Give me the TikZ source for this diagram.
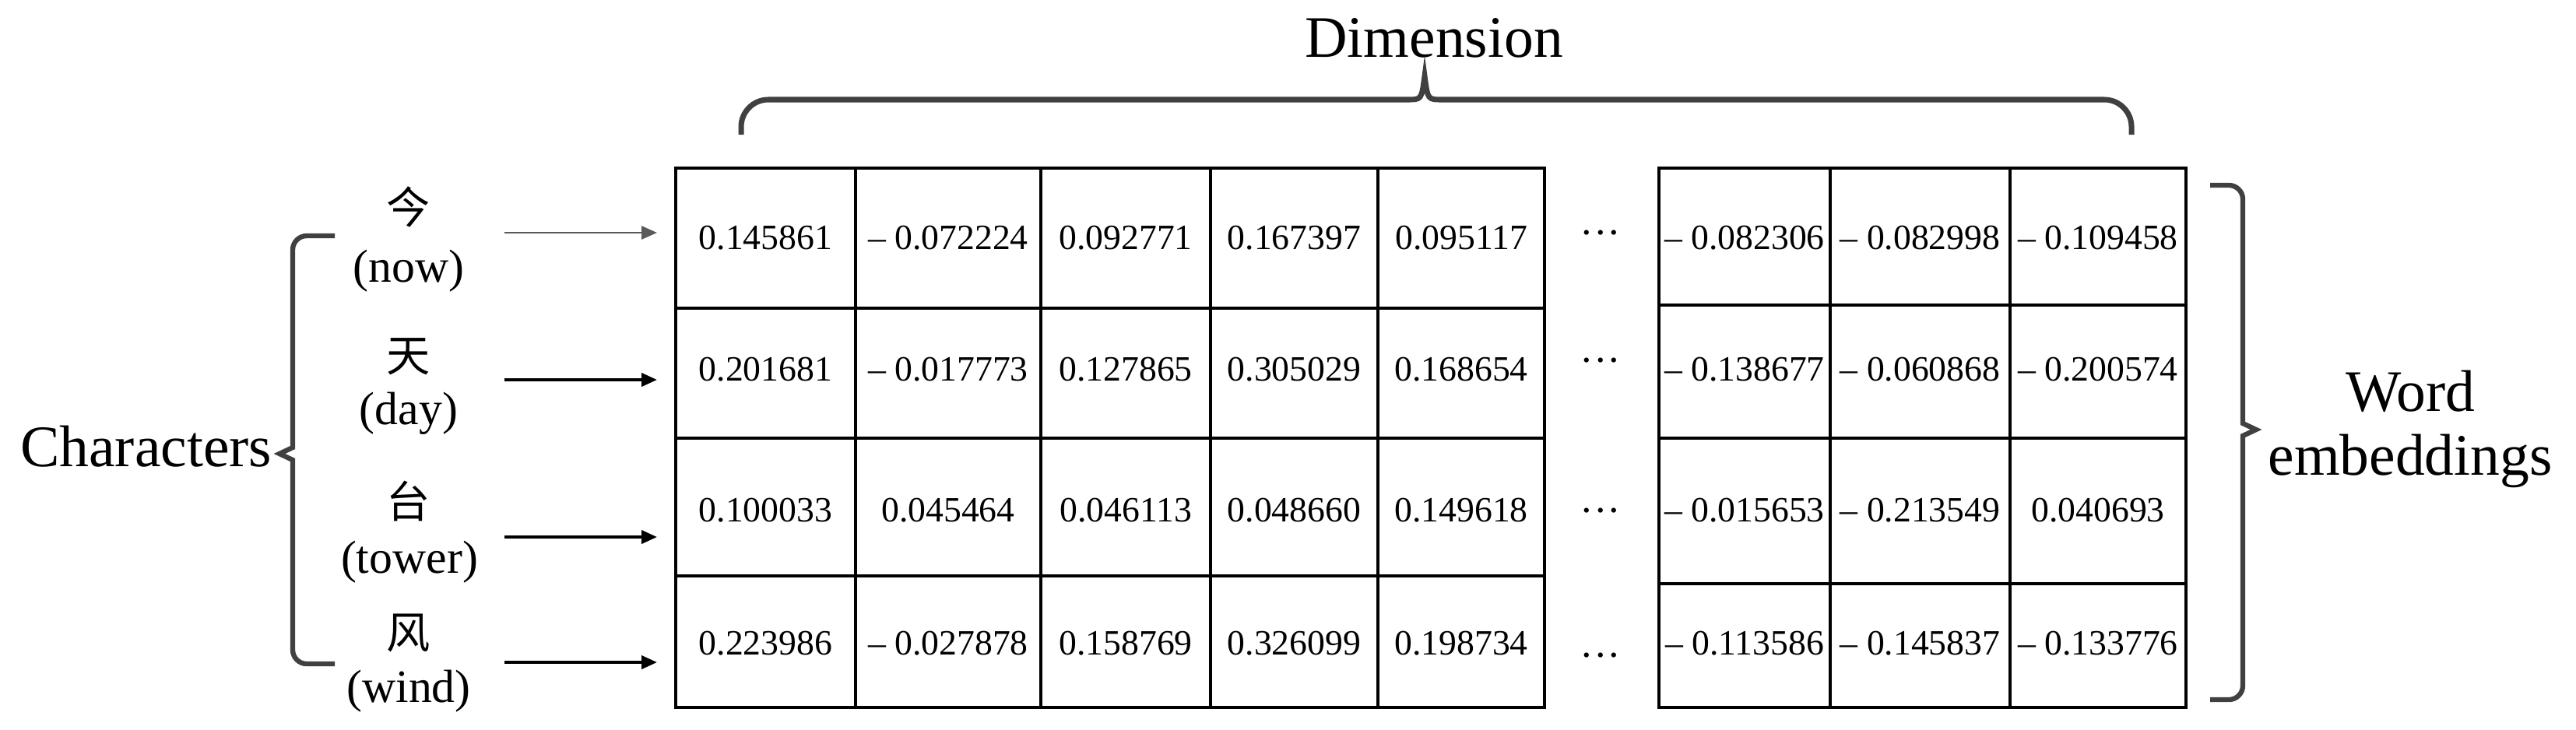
\documentclass[tikz,border=0pt]{standalone}
\usepackage{fontspec}
\setmainfont{Liberation Serif}
\newfontfamily\cjk{Noto Sans CJK SC}
\usepackage{tikz}
\usetikzlibrary{arrows.meta, positioning}
\definecolor{bracegray}{RGB}{64, 64, 64}
\definecolor{arrowgray}{RGB}{90, 90, 90}
\tikzstyle{val} = [inner sep=0pt, font=\fontsize{13}{15}\selectfont]
\tikzstyle{ell} = [inner sep=0pt, font=\fontsize{15}{17}\selectfont]
\tikzstyle{cellline} = [line width=1.1pt]
\tikzstyle{bracket} = [line width=1.8pt, draw=bracegray]
\tikzstyle{arrow} = [line width=1.1pt, -{Triangle[length=0.2cm, width=0.17cm]}]
\tikzstyle{hanzi} = [inner sep=0pt, font=\cjk\fontsize{16}{18}\selectfont]
\tikzstyle{gloss} = [inner sep=0pt, font=\fontsize{17}{19}\selectfont]
\tikzstyle{heading} = [inner sep=0pt, font=\fontsize{21.5}{23.3}\selectfont]

\begin{document}
\begin{tikzpicture}
    \useasboundingbox (0,0) rectangle (33.09,9.37);

    % Characters and glosses
    \node[hanzi] (jin) at (5.25, 6.71) {今};
    \node[gloss] (now) at (5.25, 5.89) {(now)};
    \node[hanzi] (tian) at (5.25, 4.79) {天};
    \node[gloss] (day) at (5.25, 4.06) {(day)};
    \node[hanzi] (tai) at (5.25, 2.93) {台};
    \node[gloss] (tower) at (5.26, 2.15) {(tower)};
    \node[hanzi] (feng) at (5.25, 1.24) {风};
    \node[gloss] (wind) at (5.25, 0.49) {(wind)};

    \node[heading, anchor=base east] (chars) at (3.50, 3.38) {Characters};
    \node[heading, anchor=base] (dim) at (18.42, 8.64) {Dimension};
    \node[heading, align=center] (emb) at (30.96, 3.86) {Word\\embeddings};

    % Grid of the two tables
    \draw[cellline] (8.68,0.28) rectangle (19.84,7.21);
    \foreach \x in {10.99, 13.37, 15.55, 17.70}
        \draw[cellline] (\x,0.28) -- (\x,7.21);
    \foreach \y in {5.41, 3.74, 1.97}
        \draw[cellline] (8.68,\y) -- (19.84,\y);
    \draw[cellline] (21.31,0.28) rectangle (28.08,7.21);
    \foreach \x in {23.51, 25.82}
        \draw[cellline] (\x,0.28) -- (\x,7.21);
    \foreach \y in {5.45, 3.74, 1.87}
        \draw[cellline] (21.31,\y) -- (28.08,\y);

    % Embedding values
    \foreach \r/\y/\vals in {
        1/6.31/{0.145861, – 0.072224, 0.092771, 0.167397, 0.095117, – 0.082306, – 0.082998, – 0.109458},
        2/4.62/{0.201681, – 0.017773, 0.127865, 0.305029, 0.168654, – 0.138677, – 0.060868, – 0.200574},
        3/2.81/{0.100033, 0.045464, 0.046113, 0.048660, 0.149618, – 0.015653, – 0.213549, 0.040693},
        4/1.10/{0.223986, – 0.027878, 0.158769, 0.326099, 0.198734, – 0.113586, – 0.145837, – 0.133776}}
    {
        \foreach \v [count=\c] in \vals {
            \pgfmathsetmacro\cx{{9.835,12.18,14.46,16.625,18.77,22.41,24.665,26.95}[\c-1]}
            \node[val] (c\r\c) at (\cx, \y) {\v};
        }
    }

    \node[ell] (d1) at (20.56, 6.31) {···};
    \node[ell] (d2) at (20.56, 4.67) {···};
    \node[ell] (d3) at (20.56, 2.74) {···};
    \node[ell] (d4) at (20.56, 0.88) {···};

    % Arrows into the rows
    \coordinate (a1) at (6.48, 6.38);  \coordinate (b1) at (8.44, 6.38);
    \coordinate (a2) at (6.48, 4.49);  \coordinate (b2) at (8.44, 4.49);
    \coordinate (a3) at (6.48, 2.47);  \coordinate (b3) at (8.44, 2.47);
    \coordinate (a4) at (6.48, 0.86);  \coordinate (b4) at (8.44, 0.86);
    \draw[arrow, line width=0.8pt, draw=arrowgray, fill=arrowgray] (a1) -- (b1);
    \draw[arrow] (a2) -- (b2);
    \draw[arrow] (a3) -- (b3);
    \draw[arrow] (a4) -- (b4);

    % Braces
    \draw[bracket] (4.30,6.34) [rounded corners=0.18cm] -- (3.76,6.34) [sharp corners]
        -- (3.76,3.62) -- (3.59,3.54) -- (3.76,3.46) [rounded corners=0.18cm]
        -- (3.76,0.84) -- (4.30,0.84);
    \draw[bracket] (28.39,6.99) [rounded corners=0.18cm] -- (28.81,6.99) [sharp corners]
        -- (28.81,3.93) -- (28.98,3.85) -- (28.81,3.77) [rounded corners=0.18cm]
        -- (28.81,0.38) -- (28.39,0.38);
    \draw[bracket, line width=2pt] (9.52,7.64) [rounded corners=0.35cm] -- (9.52,8.09)
        [sharp corners] -- (18.08,8.09) .. controls (18.26,8.09) .. (18.30,8.39)
        .. controls (18.34,8.09) .. (18.52,8.09) [rounded corners=0.35cm] -- (27.38,8.09)
        -- (27.38,7.64);
\end{tikzpicture}
\end{document}
